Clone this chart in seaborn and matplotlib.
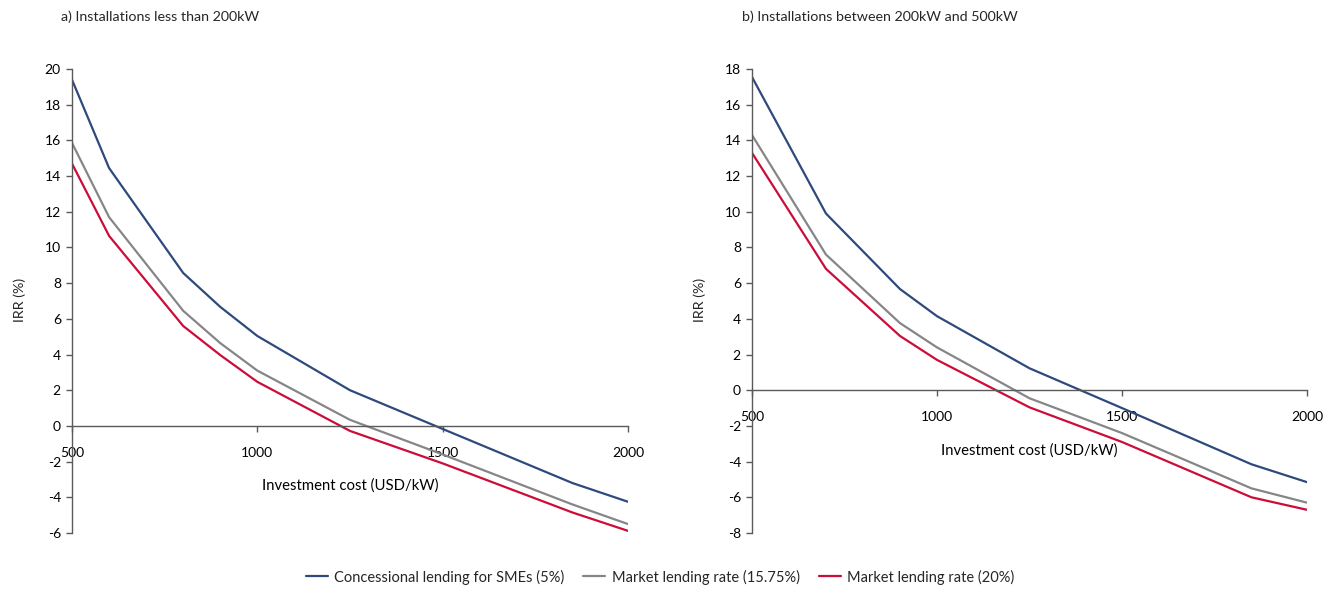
import matplotlib
matplotlib.use("Agg")
import matplotlib.pyplot as plt
import seaborn as sns
import pandas as pd
from matplotlib.lines import Line2D

# Investment cost grid (USD/kW) for each installation class
cost_small = [500, 600, 800, 900, 1000, 1250, 1500, 1850, 2000]
cost_medium = [500, 700, 900, 1000, 1250, 1500, 1850, 2000]

# IRR (%) for installations below 200 kW
irr_small_concessional = [19.4, 14.45, 8.57, 6.67, 5.04, 2.0, -0.17, -3.2, -4.25]
irr_small_market_1575 = [15.86, 11.7, 6.45, 4.64, 3.1, 0.34, -1.6, -4.4, -5.5]
irr_small_market_20 = [14.7, 10.65, 5.6, 3.97, 2.47, -0.28, -2.1, -4.85, -5.88]

# IRR (%) for installations between 200 kW and 500 kW
irr_medium_concessional = [17.55, 9.9, 5.67, 4.15, 1.23, -1.0, -4.15, -5.15]
irr_medium_market_1575 = [14.3, 7.6, 3.76, 2.4, -0.45, -2.4, -5.5, -6.3]
irr_medium_market_20 = [13.3, 6.8, 3.04, 1.7, -0.96, -2.9, -6.0, -6.7]

series_names = [
    "Concessional lending for SMEs (5%)",
    "Market lending rate (15.75%)",
    "Market lending rate (20%)",
]
panel_titles = [
    "a) Installations less than 200kW",
    "b) Installations between 200kW and 500kW",
]
colors = ["#2E4A7D", "#868686", "#CC0C39"]


def long_frame(cost, series):
    rows = []
    for name, vals in zip(series_names, series):
        for c, v in zip(cost, vals):
            rows.append({"cost": c, "irr": v, "series": name})
    return pd.DataFrame(rows)


df_small = long_frame(cost_small, [irr_small_concessional, irr_small_market_1575, irr_small_market_20])
df_medium = long_frame(cost_medium, [irr_medium_concessional, irr_medium_market_1575, irr_medium_market_20])

sns.set_style("white")
plt.rcParams["font.family"] = ["Lato", "DejaVu Sans"]
plt.rcParams["axes.unicode_minus"] = False

W, H = 1340, 593
fig = plt.figure(figsize=(W / 100, H / 100), dpi=100)

palette = dict(zip(series_names, colors))
axis_color = "#5A5A5A"

panels = [
    (df_small, (72, 628), (69, 533), (-6, 20), panel_titles[0], 61, 20),
    (df_medium, (752, 1307), (69, 533), (-8, 18), panel_titles[1], 742, 700),
]

for df, (x0, x1), (ytop, ybot), (ymin, ymax), title, title_x, ylab_x in panels:
    ax = fig.add_axes([x0 / W, 1 - ybot / H, (x1 - x0) / W, (ybot - ytop) / H])
    sns.lineplot(data=df, x="cost", y="irr", hue="series", palette=palette,
                 estimator=None, sort=False, linewidth=1.6, legend=False, ax=ax)
    ax.set_xlim(500, 2000)
    ax.set_ylim(ymin, ymax)
    ax.set_xticks([500, 1000, 1500, 2000])
    ax.set_yticks(range(ymin, ymax + 1, 2))
    ax.set_yticklabels([str(v) for v in range(ymin, ymax + 1, 2)])

    for side in ["top", "right"]:
        ax.spines[side].set_visible(False)
    ax.spines["bottom"].set_position(("data", 0))
    for side in ["left", "bottom"]:
        ax.spines[side].set_color(axis_color)
        ax.spines[side].set_linewidth(1.0)

    ax.tick_params(axis="both", which="major", direction="out", length=4,
                   width=1.0, color=axis_color, labelsize=10, labelcolor="black")
    ax.tick_params(axis="x", pad=11)
    ax.tick_params(axis="y", pad=4)
    ax.xaxis.set_ticks_position("bottom")
    ax.yaxis.set_ticks_position("left")

    # axis titles
    zero_frac = (0 - ymin) / (ymax - ymin)
    ax.set_xlabel("Investment cost (USD/kW)", fontsize=10.7, color="black")
    ax.xaxis.label.set_verticalalignment("center")
    ax.xaxis.set_label_coords(0.5, zero_frac - 60 / (ybot - ytop))
    ax.set_ylabel("")
    fig.text(ylab_x / W, 1 - 300 / H, "IRR (%)", rotation=90, fontsize=10.3,
             ha="center", va="center")

    fig.text(title_x / W, 1 - 17 / H, title, fontsize=10.3, ha="left", va="center")

handles = [Line2D([0], [0], color=c, lw=1.6) for c in colors]
fig.legend(handles, series_names, loc="center", bbox_to_anchor=(660 / W, 1 - 577 / H),
           ncol=3, frameon=False, fontsize=10.5, handlelength=1.5, handletextpad=0.45,
           columnspacing=1.3)

fig.savefig("out.png", dpi=100, facecolor="white")
